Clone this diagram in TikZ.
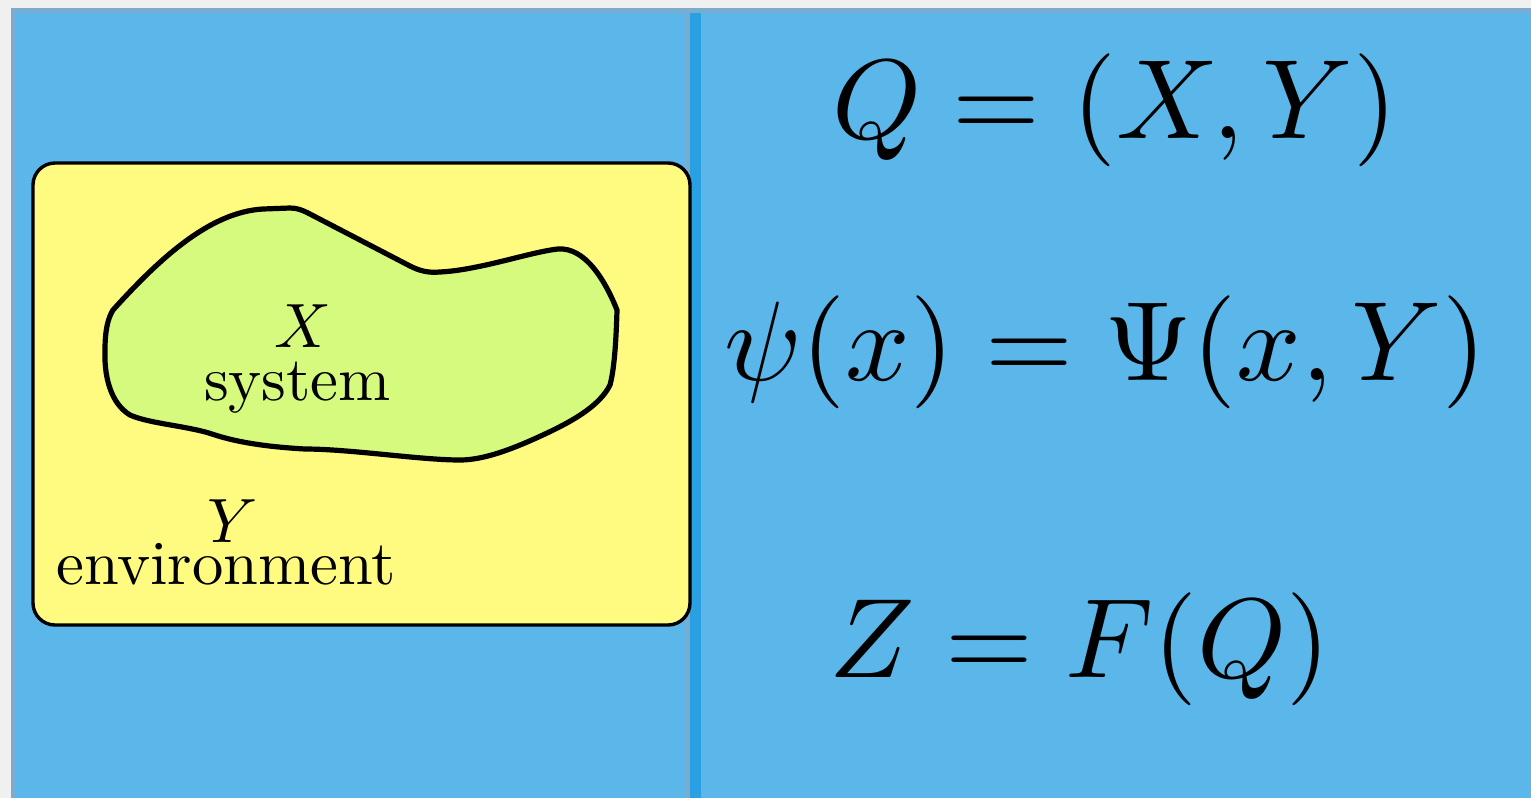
\documentclass[tikz,border=0pt]{standalone}
\definecolor{outerbg}{RGB}{240,240,241}
\definecolor{frameedge}{RGB}{122,172,208}
\definecolor{panelblue}{RGB}{91,183,234}
\definecolor{divblue}{RGB}{40,160,226}
\definecolor{envyellow}{RGB}{255,250,128}
\definecolor{sysgreen}{RGB}{214,250,126}
\begin{document}
\begin{tikzpicture}[x=0.5pt,y=-0.5pt,
  txt/.style={inner sep=0pt, anchor=base west, scale=3.13, transform shape},
  eq/.style={inner sep=0pt, anchor=base west, scale=5.65, transform shape}]
\useasboundingbox (0,0) rectangle (1531,798);
% backgrounds
\fill[outerbg] (0,0) rectangle (1531,798);
\fill[frameedge] (11,8) rectangle (1531,798);
\fill[panelblue] (15,13) rectangle (1531,798);
\fill[frameedge] (685,13) rectangle (690,798);
\fill[divblue] (690,13) rectangle (701,798);
% environment box
\draw[fill=envyellow, line width=1.7pt, rounded corners=11pt] (33,163) rectangle (690,625);
% system blob
\draw[fill=sysgreen, line width=2.6pt, line join=round]
  (113,310) .. controls (160,258) and (210,212) .. (263,209)
  -- (290,208) .. controls (297,208) and (302,210) .. (308,213)
  -- (410,266) .. controls (420,271) and (428,273) .. (440,272)
  .. controls (480,270) and (530,252) .. (558,249)
  .. controls (585,247) and (605,280) .. (617,310)
  .. controls (616,345) and (614,370) .. (610,385)
  .. controls (600,405) and (575,420) .. (545,434)
  .. controls (515,448) and (485,460) .. (460,460)
  .. controls (420,460) and (350,449) .. (305,449)
  .. controls (270,447) and (240,443) .. (215,435)
  .. controls (190,426) and (150,424) .. (130,415)
  .. controls (110,403) and (104,375) .. (105,350)
  .. controls (105,330) and (108,318) .. (113,310) -- cycle;
% labels
\node[txt] (xlab) at (273,347) {$X$};
\node[txt] (syslab) at (203,400) {system};
\node[txt] (ylab) at (206,542) {$Y$};
\node[txt] (envlab) at (55,584) {environment};
% equations
\node[eq] (eqQ) at (830,138) {$Q=(X,Y)$};
\node[eq] (eqpsi) at (722,380) {$\psi(x)=\Psi(x,Y)$};
\node[eq] (eqZ) at (827,677) {$Z=F(Q)$};
\end{tikzpicture}
\end{document}
